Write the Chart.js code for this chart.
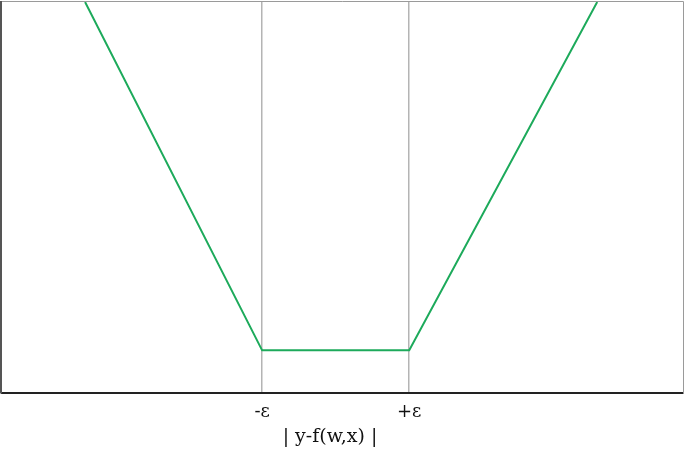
<!DOCTYPE html>
<html>
<head>
<meta charset="utf-8">
<script src="https://cdn.jsdelivr.net/npm/chart.js@4"></script>
<style>
  html, body { margin: 0; padding: 0; background: #fff; }
  #wrap { width: 685px; height: 450px; }
</style>
</head>
<body>
<div id="wrap"><canvas id="chart"></canvas></div>
<script>
// epsilon-insensitive loss (axis units 0..100)
const xValues = [12.2, 38.2, 59.8, 87.4];
const yValues = [100, 11, 11, 100];
const tickPositions = [38.2, 59.8];
const tickLabels = ['-ε', '+ε'];
const axisTitle = '| y-f(w,x) |';

const points = xValues.map((x, i) => ({ x: x, y: yValues[i] }));

// frame around the plot and the axis title
const framePlugin = {
    id: 'frame',
    afterDraw: function(chart) {
        const ctx = chart.ctx;
        const a = chart.chartArea;
        ctx.save();
        ctx.strokeStyle = '#9a9a9a';
        ctx.lineWidth = 1;
        ctx.beginPath();
        ctx.moveTo(a.left, a.top - 0.5);
        ctx.lineTo(a.right + 0.5, a.top - 0.5);
        ctx.lineTo(a.right + 0.5, a.bottom);
        ctx.stroke();
        ctx.strokeStyle = '#555';
        ctx.lineWidth = 2;
        ctx.beginPath();
        ctx.moveTo(a.left - 1, a.top - 1);
        ctx.lineTo(a.left - 1, a.bottom);
        ctx.stroke();
        ctx.fillStyle = '#111';
        ctx.font = '19px "DejaVu Serif", "Liberation Serif", serif';
        ctx.textAlign = 'center';
        ctx.textBaseline = 'middle';
        ctx.fillText(axisTitle, 330, 437);
        ctx.restore();
    }
};

new Chart(document.getElementById('chart'), {
    type: 'line',
    data: {
        datasets: [{
            data: points,
            borderColor: '#1daa5b',
            borderWidth: 2,
            pointRadius: 0,
            tension: 0,
            fill: false
        }]
    },
    options: {
        responsive: true,
        maintainAspectRatio: false,
        animation: false,
        layout: { padding: { left: 2, top: 2, right: 2, bottom: 19 } },
        plugins: {
            legend: { display: false },
            tooltip: { enabled: false }
        },
        scales: {
            x: {
                type: 'linear',
                min: 0,
                max: 100,
                afterBuildTicks: function(axis) {
                    axis.ticks = tickPositions.map(v => ({ value: v }));
                },
                grid: { color: '#b4b4b4', lineWidth: 1.5, drawTicks: false },
                border: { display: true, color: '#222', width: 2 },
                ticks: {
                    padding: 8,
                    color: '#111',
                    font: { family: '"DejaVu Serif", "Liberation Serif", serif', size: 18 },
                    maxRotation: 0,
                    callback: function(value) {
                        const i = tickPositions.indexOf(value);
                        return i >= 0 ? tickLabels[i] : '';
                    }
                }
            },
            y: {
                type: 'linear',
                min: 0,
                max: 100,
                display: false
            }
        }
    },
    plugins: [framePlugin]
});
</script>
</body>
</html>
